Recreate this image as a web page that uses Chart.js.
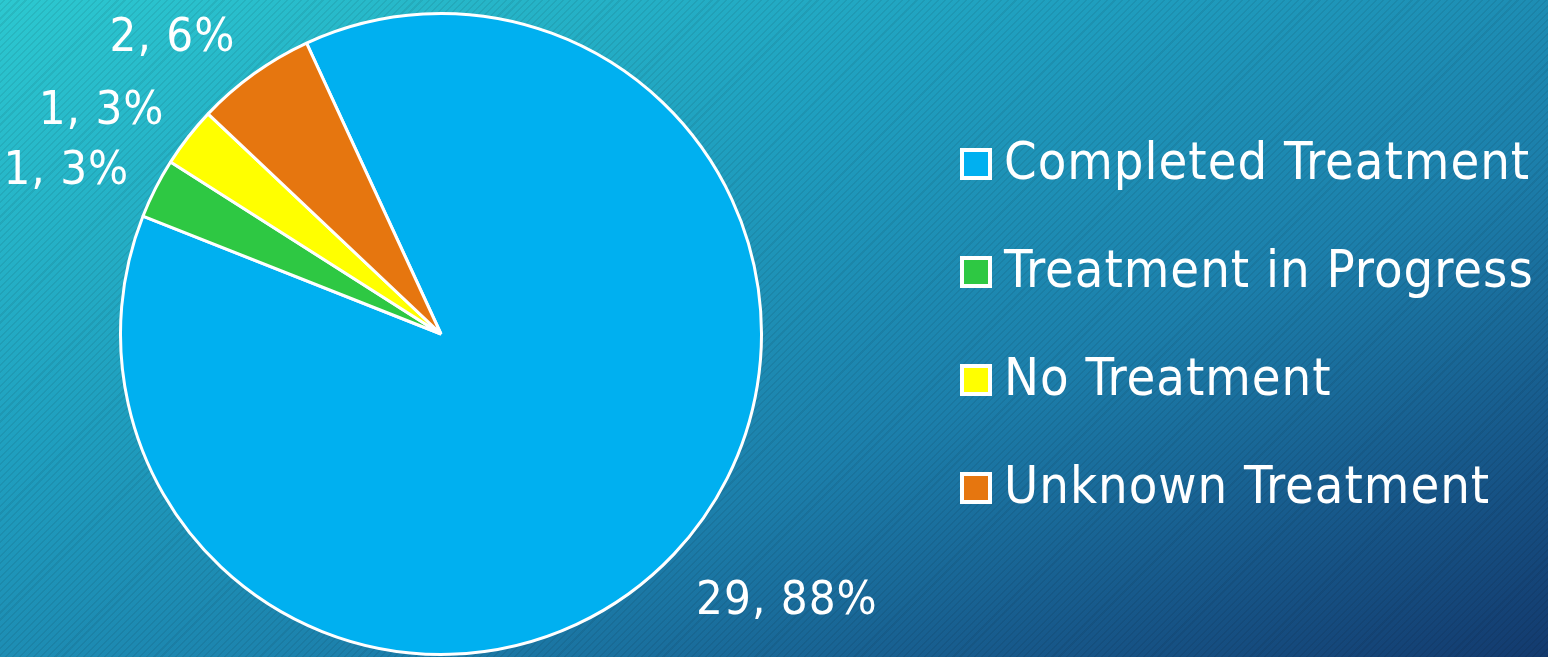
<!DOCTYPE html>
<html>
<head>
<meta charset="utf-8">
<script src="https://cdn.jsdelivr.net/npm/chart.js@4"></script>
<style>
html,body{margin:0;padding:0;}
body{width:1548px;height:657px;overflow:hidden;
background:
 repeating-linear-gradient(-45deg, rgba(0,0,0,0.07) 0px, rgba(0,0,0,0.07) 1.5px, rgba(0,0,0,0) 1.5px, rgba(0,0,0,0) 5px),
 linear-gradient(to bottom right, #2cc8d0 0%, #1f9fbf 35%, #1c7fab 62%, #17598b 82%, #133a6e 100%);}
#wrap{position:absolute;left:0;top:0;width:1548px;height:657px;}
</style>
</head>
<body>
<div id="wrap"><canvas id="c" width="1548" height="657"></canvas></div>
<script>
const categories = ["Completed Treatment", "Treatment in Progress", "No Treatment", "Unknown Treatment"];
const counts = [29, 1, 1, 2];
const percentLabels = ["88%", "3%", "3%", "6%"];
const colors = ["#00b0f0", "#2ec843", "#ffff00", "#e6760f"];

const LEGEND_FONT = '52px "DejaVu Sans Condensed", "DejaVu Sans", sans-serif';
const LABEL_FONT = '47px "DejaVu Sans Condensed", "DejaVu Sans", sans-serif';

const labelPlugin = {
  id: 'labels',
  afterDatasetsDraw(chart) {
    const ctx = chart.ctx;
    const meta = chart.getDatasetMeta(0);
    ctx.save();
    ctx.font = LABEL_FONT;
    ctx.letterSpacing = '1px';
    ctx.fillStyle = '#ffffff';
    ctx.textBaseline = 'middle';
    meta.data.forEach((arc, i) => {
      const p = arc.getProps(['x','y','startAngle','endAngle','outerRadius'], true);
      const mid = (p.startAngle + p.endAngle) / 2;
      const dx = Math.cos(mid), dy = Math.sin(mid);
      const txt = counts[i] + ', ' + percentLabels[i];
      const w = ctx.measureText(txt).width;
      const r = p.outerRadius + 25;
      const cx = p.x + dx * r + Math.sign(dx) * (w / 2 + 4);
      const cy = p.y + dy * r + dy * 25 + 6 + 10 * Math.max(dy, 0);
      ctx.textAlign = 'center';
      ctx.fillText(txt, cx, cy);
    });
    ctx.restore();
  }
};

const legendPlugin = {
  id: 'customLegend',
  afterDraw(chart) {
    const ctx = chart.ctx;
    ctx.save();
    ctx.font = LEGEND_FONT;
    ctx.letterSpacing = '1px';
    ctx.textBaseline = 'middle';
    ctx.textAlign = 'left';
    const x0 = 960, y0 = 164, gap = 108, box = 32;
    categories.forEach((c, i) => {
      const y = y0 + i * gap;
      ctx.fillStyle = '#ffffff';
      ctx.fillRect(x0, y - box/2, box, box);
      ctx.fillStyle = colors[i];
      ctx.fillRect(x0 + 4, y - box/2 + 4, box - 8, box - 8);
      ctx.fillStyle = '#ffffff';
      ctx.fillText(c, x0 + 44, y + 1);
    });
    ctx.restore();
  }
};

new Chart(document.getElementById('c'), {
  type: 'pie',
  data: {
    labels: categories,
    datasets: [{
      data: counts,
      backgroundColor: colors,
      borderColor: '#ffffff',
      borderWidth: 3
    }]
  },
  options: {
    responsive: false,
    animation: false,
    rotation: -24.8,
    layout: { padding: { left: 119, right: 785, top: 12, bottom: 1 } },
    plugins: { legend: { display: false }, tooltip: { enabled: false } }
  },
  plugins: [labelPlugin, legendPlugin]
});
</script>
</body>
</html>
